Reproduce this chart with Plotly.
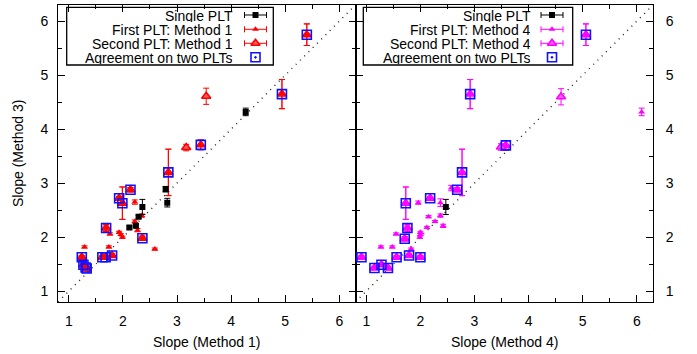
import plotly.graph_objects as go

# ---------------- data: left panel (Method 1 vs Method 3) ----------------
single1_x = [4.27, 2.79, 2.82, 2.36, 2.29, 2.24, 2.12]
single1_y = [4.32, 2.89, 2.64, 2.56, 2.38, 2.21, 2.18]
single1_e = [0.07, 0.05, 0.08, 0.14, 0.03, 0.03, 0.03]

agree1_x = [5.40, 4.94, 3.44, 2.84, 2.14, 1.93, 1.99, 1.69, 2.36, 1.24, 1.62, 1.68, 1.80, 1.27, 1.31, 1.33]
agree1_y = [5.75, 4.65, 3.71, 3.20, 2.88, 2.72, 2.63, 2.17, 1.98, 1.63, 1.63, 1.63, 1.66, 1.49, 1.44, 1.42]
agree1_e = [0.20, 0.27, 0.09, 0.43, 0.04, 0.03, 0.30, 0.06, 0.04, 0.03, 0.03, 0.03, 0.03, 0.03, 0.03, 0.03]

first1_x = agree1_x + [2.22, 2.35, 2.22, 2.27, 1.76, 1.93, 1.96, 1.99, 2.59, 1.29, 1.74]
first1_y = agree1_y + [2.65, 2.40, 2.29, 2.13, 2.06, 2.09, 2.05, 2.00, 1.78, 1.82, 1.82]
first1_e = agree1_e + [0.04, 0.03, 0.03, 0.03, 0.02, 0.02, 0.02, 0.02, 0.02, 0.02, 0.02]

second1_x = agree1_x + [3.54, 3.17]
second1_y = agree1_y + [4.61, 3.66]
second1_e = agree1_e + [0.15, 0.06]

# ---------------- data: right panel (Method 4 vs Method 3) ----------------
single4_x = [2.47]
single4_y = [2.56]
single4_e = [0.14]

agree4_x = [5.06, 2.92, 3.58, 2.77, 2.68, 2.18, 1.73, 1.76, 1.71, 0.91, 1.56, 1.79, 2.00, 1.15, 1.28, 1.40]
agree4_y = [5.75, 4.65, 3.70, 3.20, 2.88, 2.72, 2.63, 2.17, 1.97, 1.63, 1.63, 1.66, 1.63, 1.43, 1.49, 1.43]
agree4_e = [0.20, 0.27, 0.09, 0.43, 0.04, 0.03, 0.30, 0.06, 0.04, 0.03, 0.03, 0.03, 0.03, 0.03, 0.03, 0.03]

first4_x = agree4_x + [6.09, 2.57, 2.37, 1.96, 2.37, 2.15, 2.27, 2.42, 2.12, 1.55, 2.00, 2.00, 1.99, 1.27, 1.48, 1.83]
first4_y = agree4_y + [4.32, 2.91, 2.64, 2.64, 2.40, 2.38, 2.29, 2.21, 2.18, 2.06, 2.09, 2.05, 2.00, 1.82, 1.82, 1.78]
first4_e = agree4_e + [0.07, 0.05, 0.07, 0.03, 0.03, 0.02, 0.02, 0.03, 0.02, 0.02, 0.02, 0.02, 0.02, 0.02, 0.02, 0.02]

second4_x = agree4_x + [4.60, 3.49]
second4_y = agree4_y + [4.60, 3.67]
second4_e = agree4_e + [0.15, 0.06]

axis_range = [0.8, 6.3]
legend_labels_1 = ["Single PLT", "First PLT: Method 1", "Second PLT: Method 1", "Agreement on two PLTs"]
legend_labels_4 = ["Single PLT", "First PLT: Method 4", "Second PLT: Method 4", "Agreement on two PLTs"]

FONT = "Liberation Sans, Arial, Helvetica, sans-serif"
RED, RED_FILL = "#ff0000", "#ff5a5a"
MAG, MAG_FILL = "#ff00ff", "#ff5aff"
BLUE = "#1010ff"

fig = go.Figure()


def err(vals, color):
    return dict(type="data", array=vals, visible=True, color=color, thickness=1, width=3)


def add_panel(xa, ya, sx, sy, se, fx, fy, fe, tx, ty, te, ax, ay, color, fill):
    # y = x reference line
    fig.add_trace(go.Scatter(x=axis_range, y=axis_range, mode="lines", xaxis=xa, yaxis=ya,
                             line=dict(color="#222222", width=1.4, dash="1px,5px"),
                             hoverinfo="skip"))
    fig.add_trace(go.Scatter(x=tx, y=ty, mode="markers", xaxis=xa, yaxis=ya,
                             error_y=err(te, color),
                             marker=dict(symbol="triangle-up", size=8, color=fill,
                                         line=dict(width=1.5, color=color))))
    fig.add_trace(go.Scatter(x=fx, y=fy, mode="markers", xaxis=xa, yaxis=ya,
                             error_y=err(fe, color),
                             marker=dict(symbol="triangle-up", size=6, color=color)))
    fig.add_trace(go.Scatter(x=sx, y=sy, mode="markers", xaxis=xa, yaxis=ya,
                             error_y=err(se, "black"),
                             marker=dict(symbol="square", size=6, color="black")))
    fig.add_trace(go.Scatter(x=ax, y=ay, mode="markers", xaxis=xa, yaxis=ya,
                             marker=dict(symbol="square-open", size=9, color=BLUE,
                                         line=dict(width=1.6, color=BLUE))))


add_panel("x", "y", single1_x, single1_y, single1_e, first1_x, first1_y, first1_e,
          second1_x, second1_y, second1_e, agree1_x, agree1_y, RED, RED_FILL)
add_panel("x2", "y2", single4_x, single4_y, single4_e, first4_x, first4_y, first4_e,
          second4_x, second4_y, second4_e, agree4_x, agree4_y, MAG, MAG_FILL)

# ---------------- hand-built legends on a pixel-space overlay ----------------
rows = [15, 29.3, 43.3, 57.3]
legends = [
    dict(box=(66.7, 273.3), text_right=235, sample=255.5, color=RED, fill=RED_FILL, labels=legend_labels_1),
    dict(box=(363.3, 572.7), text_right=533, sample=552, color=MAG, fill=MAG_FILL, labels=legend_labels_4),
]
shapes = []
annotations = []
for lg in legends:
    x0, x1 = lg["box"]
    shapes.append(dict(type="rect", xref="x3", yref="y3", x0=x0, x1=x1, y0=7.3, y1=65,
                       line=dict(color="black", width=1.3), fillcolor="rgba(0,0,0,0)", layer="below"))
    for lab, ry in zip(lg["labels"], rows):
        annotations.append(dict(xref="x3", yref="y3", x=lg["text_right"], y=ry, text=lab,
                                showarrow=False, xanchor="right", yanchor="middle", height=13,
                                font=dict(family=FONT, size=14, color="black")))
    c = lg["color"]
    ex = dict(type="data", array=[11], visible=True, thickness=1, width=3)
    fig.add_trace(go.Scatter(x=[lg["sample"]], y=[rows[0]], xaxis="x3", yaxis="y3", mode="markers",
                             error_x=dict(ex, color="black"),
                             marker=dict(symbol="square", size=6, color="black")))
    fig.add_trace(go.Scatter(x=[lg["sample"]], y=[rows[1]], xaxis="x3", yaxis="y3", mode="markers",
                             error_x=dict(ex, color=c),
                             marker=dict(symbol="triangle-up", size=6, color=c)))
    fig.add_trace(go.Scatter(x=[lg["sample"]], y=[rows[2]], xaxis="x3", yaxis="y3", mode="markers",
                             error_x=dict(ex, color=c),
                             marker=dict(symbol="triangle-up", size=8, color=lg["fill"],
                                         line=dict(width=1.5, color=c))))
    fig.add_trace(go.Scatter(x=[lg["sample"]], y=[rows[3]], xaxis="x3", yaxis="y3", mode="markers",
                             marker=dict(symbol="square-open-dot", size=9, color=BLUE,
                                         line=dict(width=1.6, color=BLUE))))

# axis titles
annotations += [
    dict(xref="paper", yref="paper", x=0.25, y=-0.135, text="Slope (Method 1)", showarrow=False,
         xanchor="center", yanchor="middle", font=dict(family=FONT, size=14, color="black")),
    dict(xref="paper", yref="paper", x=0.75, y=-0.135, text="Slope (Method 4)", showarrow=False,
         xanchor="center", yanchor="middle", font=dict(family=FONT, size=14, color="black")),
    dict(xref="paper", yref="paper", x=-0.068, y=0.5, text="Slope (Method 3)", showarrow=False,
         textangle=-90, xanchor="center", yanchor="middle",
         font=dict(family=FONT, size=14, color="black")),
]

common = dict(range=axis_range, dtick=1, tick0=0, ticks="inside", ticklen=7, tickwidth=1,
              tickcolor="black", showline=True, linecolor="black", linewidth=1,
              mirror="allticks", showgrid=False, zeroline=False,
              minor=dict(ticks="inside", ticklen=4, dtick=0.5, tick0=0, tickcolor="black",
                         showgrid=False),
              tickfont=dict(family=FONT, size=14, color="black"))

fig.update_layout(
    width=697, height=354,
    margin=dict(l=58, r=44, t=5, b=52),
    paper_bgcolor="white", plot_bgcolor="rgba(0,0,0,0)",
    showlegend=False,
    xaxis=dict(common, domain=[0, 0.5], anchor="y", ticklabelstandoff=6),
    yaxis=dict(common, domain=[0, 1], anchor="x", side="left", ticklabelstandoff=6),
    xaxis2=dict(common, domain=[0.5, 1], anchor="y2", ticklabelstandoff=6),
    yaxis2=dict(common, domain=[0, 1], anchor="x2", side="right", ticklabelstandoff=9),
    xaxis3=dict(domain=[0, 1], anchor="y3", range=[58, 653], visible=False, fixedrange=True),
    yaxis3=dict(domain=[0, 1], anchor="x3", range=[302, 5], visible=False, fixedrange=True),
    shapes=shapes,
    annotations=annotations,
)

fig.write_html("out.html")
